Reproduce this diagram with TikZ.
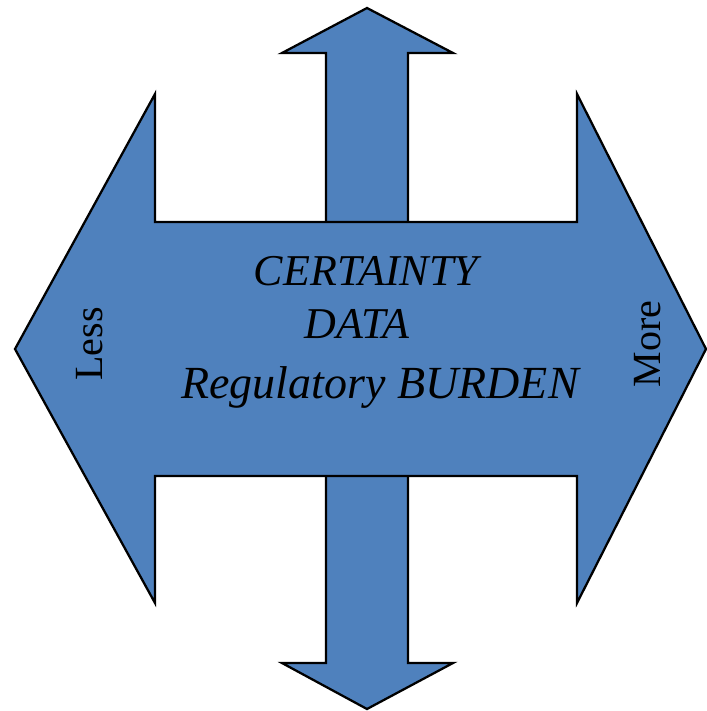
\documentclass[tikz,border=0pt]{standalone}
\usepackage{fontspec}
\setmainfont{Liberation Serif}
\begin{document}
\begin{tikzpicture}[x=0.75pt,y=-0.75pt,
  arrowshape/.style={fill=arrowblue,draw=black,line width=1.7pt,line join=miter},
  midtext/.style={anchor=base,inner sep=0pt,font=\fontsize{33}{40}\selectfont\itshape},
  sidetext/.style={inner sep=0pt,rotate=90,font=\fontsize{30}{36}\selectfont}]
\definecolor{arrowblue}{HTML}{4F81BD}
\useasboundingbox (0,0) rectangle (707,711);
% vertical double arrow (behind)
\draw[arrowshape] (367,8) -- (453,53) -- (408,53) -- (408,663) -- (453,663)
  -- (367,709) -- (282,663) -- (326,663) -- (326,53) -- (282,53) -- cycle;
% horizontal double arrow (in front)
\draw[arrowshape] (15,349) -- (155,94) -- (155,222) -- (577,222) -- (577,94)
  -- (706,349) -- (577,603) -- (577,476) -- (155,476) -- (155,603) -- cycle;
% labels
\node[midtext] (certainty) at (366,285) {CERTAINTY};
\node[midtext] (data) at (357,338) {DATA};
\node[midtext,font=\fontsize{34.5}{40}\selectfont\itshape] (burden) at (380,398) {Regulatory BURDEN};
\node[sidetext] (less) at (90,344) {Less};
\node[sidetext] (more) at (648,344) {More};
\end{tikzpicture}
\end{document}
